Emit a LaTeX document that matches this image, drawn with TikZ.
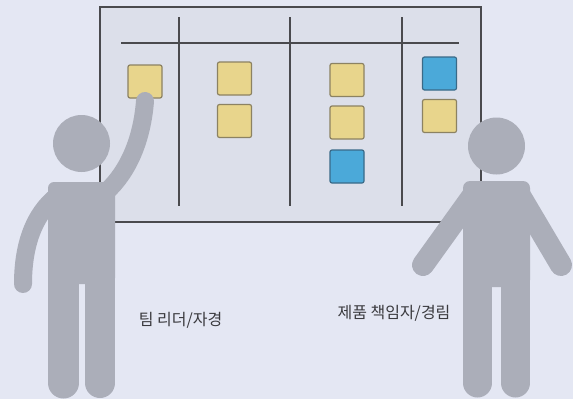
\documentclass[tikz,border=0pt]{standalone}
\usepackage{fontspec}
\newfontfamily\krfont{Noto Sans CJK KR}
\definecolor{bgc}{HTML}{E4E7F3}
\definecolor{boardc}{HTML}{DCDFEA}
\definecolor{linec}{HTML}{4A4A4E}
\definecolor{notey}{HTML}{E8D58C}
\definecolor{noteyb}{HTML}{8C8262}
\definecolor{noteb}{HTML}{4BA9D9}
\definecolor{notebb}{HTML}{3A6A88}
\definecolor{personc}{HTML}{ABAEB9}
\definecolor{textc}{HTML}{3A3A3E}
\tikzset{
  note/.style={draw, line width=1.2pt, rounded corners=2pt, minimum width=34pt, minimum height=33pt, inner sep=0pt},
  yellownote/.style={note, fill=notey, draw=noteyb},
  bluenote/.style={note, fill=noteb, draw=notebb},
  colline/.style={draw=linec, line width=1.8pt},
  limb/.style={draw=personc, line cap=round},
  label/.style={font=\krfont\fontsize{16}{19}\selectfont, text=textc, inner sep=0pt}
}
\begin{document}
\begin{tikzpicture}[x=1pt,y=-1pt]
\useasboundingbox[fill=bgc] (0,0) rectangle (573,399);
% board
\draw[fill=boardc, draw=linec, line width=1.1pt] (100,7) rectangle (481,222);
\coordinate (hl) at (121,43);
\coordinate (hr) at (459,43);
\draw[colline] (hl) -- (hr);
\foreach \x in {179,290,402} \draw[colline] (\x,17) -- (\x,206);
% notes
\node[yellownote] (n1) at (145,81.5) {};
\node[yellownote] (n2) at (234.5,78.5) {};
\node[yellownote] (n3) at (234.5,121) {};
\node[yellownote] (n4) at (347,80) {};
\node[yellownote] (n5) at (347,122.5) {};
\node[bluenote]   (n6) at (347,166.5) {};
\node[bluenote]   (n7) at (439.5,73.5) {};
\node[yellownote] (n8) at (439.5,116) {};
% team leader
\fill[personc] (81.5,143.5) circle (28.5);
\fill[personc, rounded corners=6pt] (48,182) -- (115,182) -- (115,284) -- (48,284) -- cycle;
\draw[limb, line width=31pt] (63.5,278) -- (63.5,383);
\draw[limb, line width=30pt] (100,278) -- (100,383);
\draw[limb, line width=18pt] (57,196) .. controls (34,214) and (23,245) .. (23,284);
\draw[limb, line width=18pt] (106,192) .. controls (128,172) and (142,140) .. (145,101);
% product owner
\fill[personc] (496.5,146) circle (28.5);
\fill[personc, rounded corners=7pt] (463,181) -- (530,181) -- (530,287) -- (463,287) -- cycle;
\draw[limb, line width=29pt] (477.5,281) -- (477.5,383);
\draw[limb, line width=29pt] (515.5,281) -- (515.5,383);
\draw[limb, line width=22pt] (474,194) -- (423,265);
\draw[limb, line width=22pt] (519,194) -- (561,265);
% labels
\node[label] (lead) at (180.5,320) {팀 리더/자경};
\node[label] (po) at (394,313.5) {제품 책임자/경림};
\end{tikzpicture}
\end{document}
